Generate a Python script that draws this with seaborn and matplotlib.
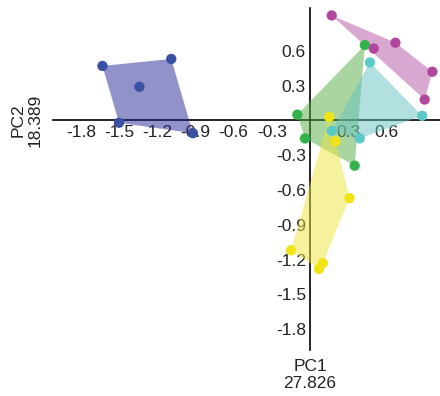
import numpy as np
import pandas as pd
import matplotlib
matplotlib.use("Agg")
import matplotlib.pyplot as plt
import seaborn as sns

# PCA scores per group
blue_x = [-1.63, -1.09, -1.34, -1.50, -0.92]
blue_y = [0.47, 0.53, 0.29, -0.02, -0.11]
green_x = [0.43, -0.10, -0.04, 0.35]
green_y = [0.65, 0.05, -0.155, -0.39]
cyan_x = [0.47, 0.88, 0.17, 0.39]
cyan_y = [0.50, 0.04, -0.09, -0.155]
yellow_x = [0.15, 0.20, 0.31, -0.15, 0.10, 0.07]
yellow_y = [0.03, -0.18, -0.67, -1.12, -1.23, -1.28]
magenta_x = [0.17, 0.67, 0.50, 0.96, 0.90]
magenta_y = [0.905, 0.67, 0.62, 0.42, 0.18]

groups = ["A", "B", "C", "D", "E"]
point_colors = ["#3a50a2", "#33b34a", "#5cc9c9", "#f0e416", "#b0479d"]
hull_colors = ["#262696", "#56ad45", "#66c2c2", "#ede43c", "#b452a2"]

ticks = [-1.8, -1.5, -1.2, -0.9, -0.6, -0.3, 0.3, 0.6]
pc1_label = "PC1\n27.826"
pc2_label = "PC2\n18.389"

df = pd.DataFrame({
    "x": blue_x + green_x + cyan_x + yellow_x + magenta_x,
    "y": blue_y + green_y + cyan_y + yellow_y + magenta_y,
    "group": (["A"] * len(blue_x) + ["B"] * len(green_x) + ["C"] * len(cyan_x)
              + ["D"] * len(yellow_x) + ["E"] * len(magenta_x)),
})


def convex_hull(pts):
    pts = sorted(set(pts))
    if len(pts) < 3:
        return pts

    def cross(o, a, b):
        return (a[0] - o[0]) * (b[1] - o[1]) - (a[1] - o[1]) * (b[0] - o[0])

    lower, upper = [], []
    for p in pts:
        while len(lower) >= 2 and cross(lower[-2], lower[-1], p) <= 0:
            lower.pop()
        lower.append(p)
    for p in reversed(pts):
        while len(upper) >= 2 and cross(upper[-2], upper[-1], p) <= 0:
            upper.pop()
        upper.append(p)
    return lower[:-1] + upper[:-1]


sns.set_style("white")
plt.rcParams["font.family"] = ["Liberation Sans", "DejaVu Sans"]

fig = plt.figure(figsize=(4.4, 3.96), dpi=100)
ax = fig.add_axes([0.12, 0.116, 0.88, 0.864])

# hulls
for g, hc in zip(groups, hull_colors):
    sub = df[df["group"] == g]
    hull = convex_hull(list(zip(sub["x"], sub["y"])))
    hx, hy = zip(*hull)
    ax.fill(hx, hy, color=hc, alpha=0.5, lw=0, zorder=1)

# points
sns.scatterplot(data=df, x="x", y="y", hue="group", palette=point_colors,
                hue_order=groups, s=55, edgecolor="none", legend=False,
                ax=ax, zorder=3)

ax.set_xlim(-2.02, 1.02)
ax.set_ylim(-1.98, 0.97)
ax.spines["left"].set_position(("data", 0))
ax.spines["bottom"].set_position(("data", 0))
ax.spines["top"].set_visible(False)
ax.spines["right"].set_visible(False)
for s in ["left", "bottom"]:
    ax.spines[s].set_color("black")
    ax.spines[s].set_linewidth(1.2)
    ax.spines[s].set_zorder(0.5)

ax.set_xticks(ticks)
ax.set_yticks(ticks)
ax.set_xticklabels([f"{t:.1f}" for t in ticks])
ax.set_yticklabels([f"{t:.1f}" for t in ticks])
ax.tick_params(axis="both", labelsize=12.5, length=2, width=0.8, pad=1,
               colors="black", labelcolor="#222222")
ax.set_xlabel("")
ax.set_ylabel("")

fig.text(310 / 440, 1 - 375 / 396, pc1_label, ha="center", va="center",
         fontsize=12.5, color="#222222", linespacing=1.15)
fig.text(27 / 440, 1 - 120 / 396, pc2_label, ha="center", va="center",
         fontsize=12.5, color="#222222", rotation=90, linespacing=1.15)

fig.savefig("out.png", dpi=100)
